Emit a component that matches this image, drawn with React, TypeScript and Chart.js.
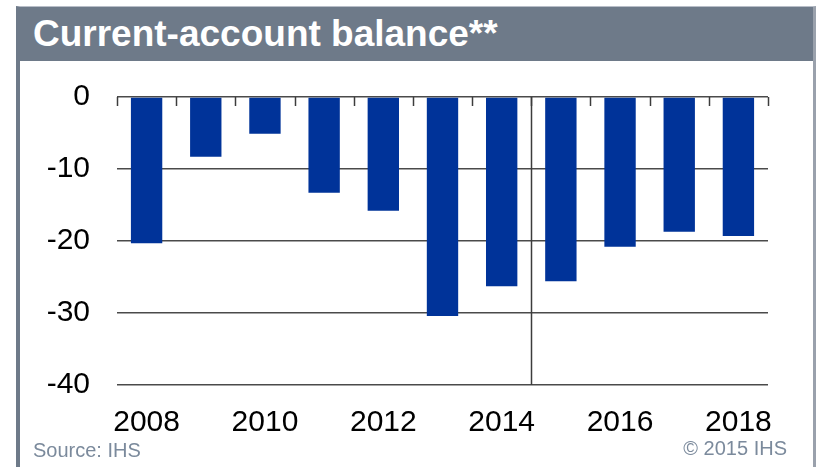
import React, { useEffect, useRef } from "react";
import { Chart, registerables } from "chart.js";

Chart.register(...registerables);

const titleText = "Current-account balance**";
const sourceText = "Source: IHS";
const copyrightText = "\u00A9 2015 IHS";

const categories = ["2008", "2009", "2010", "2011", "2012", "2013", "2014", "2015", "2016", "2017", "2018"];
const balanceValues = [-20.3, -8.3, -5.1, -13.3, -15.8, -30.4, -26.3, -25.6, -20.8, -18.7, -19.3];
const shownYearLabels = ["2008", "2010", "2012", "2014", "2016", "2018"];
const yTickValues = [0, -10, -20, -30, -40];
const forecastStartYear = "2015";

const FONT = '"Liberation Sans", Arial, Helvetica, sans-serif';

const markerPlugin = {
  id: "markers",
  afterDatasetsDraw(chart: any) {
    const xs = chart.scales.x;
    const ys = chart.scales.y;
    const ctx = chart.ctx;
    const top = ys.getPixelForValue(0);
    const bottom = ys.getPixelForValue(Math.min(...yTickValues));
    ctx.save();
    ctx.strokeStyle = "#3c3c3c";
    ctx.lineWidth = 1.5;
    for (let i = 0; i <= categories.length; i++) {
      const px = Math.round(xs.getPixelForValue(i - 0.5)) + 0.5;
      ctx.beginPath();
      ctx.moveTo(px, top);
      ctx.lineTo(px, top + 9);
      ctx.stroke();
    }
    const fi = categories.indexOf(forecastStartYear);
    const dx = Math.round(xs.getPixelForValue(fi - 0.5)) + 0.5;
    ctx.beginPath();
    ctx.moveTo(dx, top);
    ctx.lineTo(dx, bottom);
    ctx.stroke();
    ctx.restore();
  },
};

export default function App() {
  const canvasRef = useRef<HTMLCanvasElement | null>(null);

  useEffect(() => {
    if (!canvasRef.current) return;
    const chart = new Chart(canvasRef.current, {
      type: "bar",
      data: {
        labels: categories,
        datasets: [
          {
            data: balanceValues,
            backgroundColor: "#003399",
            borderWidth: 0,
            barPercentage: 0.53,
            categoryPercentage: 1,
          },
        ],
      },
      options: {
        animation: false,
        responsive: false,
        events: [],
        layout: { padding: { left: 0, right: 49, top: 97, bottom: 0 } },
        plugins: {
          legend: { display: false },
          tooltip: { enabled: false },
          title: { display: false },
        },
        scales: {
          x: {
            type: "category",
            offset: true,
            grid: { display: false, drawTicks: false },
            border: { display: false },
            ticks: {
              autoSkip: false,
              maxRotation: 0,
              padding: 20,
              color: "#000",
              font: { family: FONT, size: 30 },
              callback: (_v: any, i: number) =>
                shownYearLabels.includes(categories[i]) ? categories[i] : "",
            },
            afterFit: (s: any) => {
              s.height = 82;
            },
          },
          y: {
            min: -40,
            max: 0,
            grid: { color: "#4a4a4a", lineWidth: 1.5, drawTicks: false },
            border: { display: false },
            ticks: {
              stepSize: 10,
              padding: 27,
              color: "#000",
              font: { family: FONT, size: 30 },
            },
            afterBuildTicks: (s: any) => {
              s.ticks = yTickValues.map((v) => ({ value: v }));
            },
            afterFit: (s: any) => {
              s.width = 117;
            },
          },
        },
      },
      plugins: [markerPlugin],
    });
    return () => chart.destroy();
  }, []);

  return (
    <div
      style={{
        position: "absolute",
        left: 0,
        top: 0,
        width: 817,
        height: 467,
        overflow: "hidden",
        background: "#fff",
        fontFamily: FONT,
      }}
    >
      <div
        style={{
          position: "absolute",
          left: 16,
          top: 6,
          width: 793,
          height: 470,
          borderTop: "1px solid #b8bec8",
          borderLeft: "4px solid #6e7a89",
          borderRight: "3px solid #9aa1ac",
        }}
      />
      <div
        style={{
          position: "absolute",
          left: 16,
          top: 7,
          width: 797,
          height: 54,
          background: "#6e7a89",
          color: "#fff",
          fontWeight: "bold",
          fontSize: 37,
          lineHeight: "54px",
          paddingLeft: 17,
          boxSizing: "border-box",
          whiteSpace: "nowrap",
        }}
      >
        {titleText}
      </div>
      <canvas
        ref={canvasRef}
        width={817}
        height={467}
        style={{ position: "absolute", left: 0, top: 0, display: "block" }}
      />
      <div
        style={{
          position: "absolute",
          left: 33,
          top: 438,
          fontSize: 20,
          lineHeight: "24px",
          color: "#7b8a9c",
        }}
      >
        {sourceText}
      </div>
      <div
        style={{
          position: "absolute",
          right: 30,
          top: 436,
          fontSize: 20,
          lineHeight: "24px",
          color: "#7b8a9c",
        }}
      >
        {copyrightText}
      </div>
    </div>
  );
}
